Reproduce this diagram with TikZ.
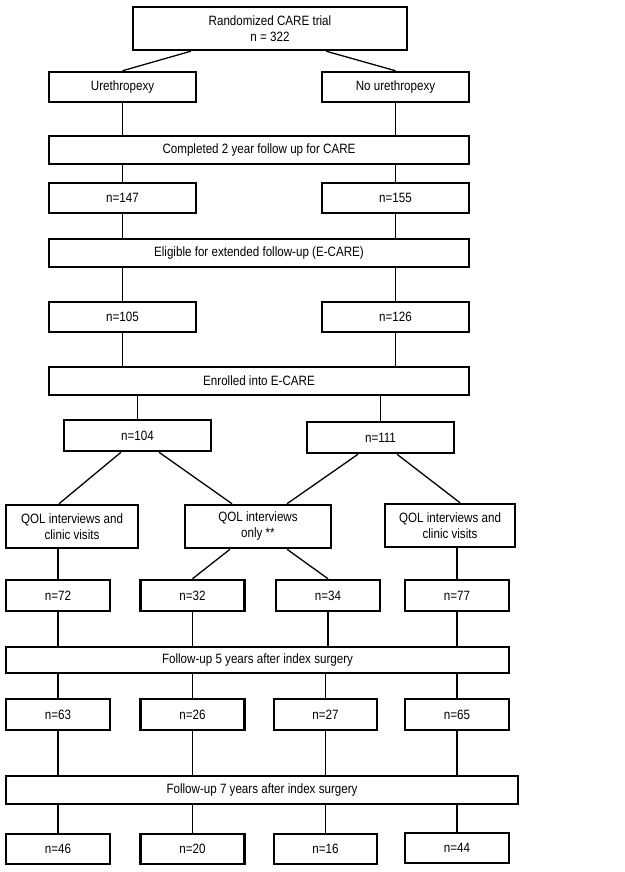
\documentclass[tikz,border=0pt]{standalone}
\usepackage{fontspec}
\setmainfont{Liberation Sans}[FakeStretch=0.86]
\usetikzlibrary{calc}

\begin{document}
\begin{tikzpicture}[x=1pt,y=-1pt,
    box/.style={draw,line width=2.5pt,align=center,inner sep=2pt,
      minimum height=30pt,font=\fontsize{13.5}{16}\selectfont},
    wide/.style={box,minimum width=420pt,minimum height=28pt},
    half/.style={box,minimum width=147pt},
    qol/.style={box,minimum height=43pt},
    quarter/.style={box,minimum width=104pt,minimum height=31pt},
    link/.style={line width=1.3pt}]
  \useasboundingbox (0,0) rectangle (624,872);
  \node[box,minimum width=274pt,minimum height=43pt] (top) at (270,28.5) {Randomized CARE trial\\n = 322};
  \node[half] (ureth) at (122.5,87) {Urethropexy};
  \node[half] (noureth) at (395.5,87) {No urethropexy};
  \node[wide] (compl) at (259,150) {Completed 2 year follow up for CARE};
  \node[half] (n147) at (122.5,198) {n=147};
  \node[half] (n155) at (395.5,198) {n=155};
  \node[wide] (elig) at (259,253) {Eligible for extended follow-up (E-CARE)};
  \node[half] (n105) at (122.5,317) {n=105};
  \node[half] (n126) at (395.5,317) {n=126};
  \node[wide] (enrol) at (259,381) {Enrolled into E-CARE};
  \node[half,minimum height=31pt] (n104) at (137.5,435.5) {n=104};
  \node[half,minimum height=31pt] (n111) at (380.5,437.5) {n=111};
  \node[qol,minimum width=132pt] (qolL) at (72,526.5) {QOL interviews and\\clinic visits};
  \node[qol,minimum width=146pt] (qolM) at (258,526.5) {QOL interviews\\only **};
  \node[qol,minimum width=130pt] (qolR) at (450,525.5) {QOL interviews and\\clinic visits};
  \node[quarter] (n72) at (58,595.5) {n=72};
  \node[quarter] (n32) at (192.5,595.5) {n=32};
  \node[quarter] (n34) at (328,595.5) {n=34};
  \node[quarter] (n77) at (457,595.5) {n=77};
  \node[box,minimum width=503pt,minimum height=26pt] (fu5) at (257.5,660) {Follow-up 5 years after index surgery};
  \node[quarter] (n63) at (58,714.5) {n=63};
  \node[quarter] (n26) at (192.5,714.5) {n=26};
  \node[quarter,minimum width=103pt] (n27) at (325.5,714.5) {n=27};
  \node[quarter] (n65) at (457,714.5) {n=65};
  \node[box,minimum width=512pt,minimum height=28pt] (fu7) at (262,790) {Follow-up 7 years after index surgery};
  \node[quarter,minimum height=30pt] (n46) at (58,849) {n=46};
  \node[quarter,minimum height=30pt] (n20) at (192.5,849) {n=20};
  \node[quarter,minimum height=30pt,minimum width=103pt] (n16) at (325.5,849) {n=16};
  \node[quarter,minimum height=30pt] (n44) at (457,848) {n=44};

  \draw[link] ([xshift=59pt]top.south west)--(ureth.north);
  \draw[link] ([xshift=-82pt]top.south east)--(noureth.north);
  \draw[link] (ureth)--(ureth|-compl.north) (noureth)--(noureth|-compl.north);
  \draw[link] (n147|-compl.south)--(n147) (n155|-compl.south)--(n155);
  \draw[link] (n147)--(n147|-elig.north) (n155)--(n155|-elig.north);
  \draw[link] (n105|-elig.south)--(n105) (n126|-elig.south)--(n126);
  \draw[link] (n105)--(n105|-enrol.north) (n126)--(n126|-enrol.north);
  \draw[link] (n104|-enrol.south)--(n104) (n111|-enrol.south)--(n111);
  \draw[link] ([xshift=-16.5pt]n104.south)--([xshift=-13pt]qolL.north);
  \draw[link] ([xshift=21.5pt]n104.south)--([xshift=-26pt]qolM.north);
  \draw[link] ([xshift=-22.5pt]n111.south)--([xshift=29pt]qolM.north);
  \draw[link] ([xshift=16.5pt]n111.south)--([xshift=10pt]qolR.north);
  \draw[link] (qolL.south-|n72)--(n72);
  \draw[link] ([xshift=-28pt]qolM.south)--(n32.north);
  \draw[link] ([xshift=29pt]qolM.south)--(n34.north);
  \draw[link] (qolR.south-|n77)--(n77);
  \foreach \n in {n72,n32,n34,n77}
    \draw[link] (\n)--(\n|-fu5.north);
  \foreach \n in {n63,n26,n27,n65}
    \draw[link] (\n|-fu5.south)--(\n) (\n)--(\n|-fu7.north);
  \foreach \n in {n46,n20,n16,n44}
    \draw[link] (\n|-fu7.south)--(\n);
\end{tikzpicture}
\end{document}
